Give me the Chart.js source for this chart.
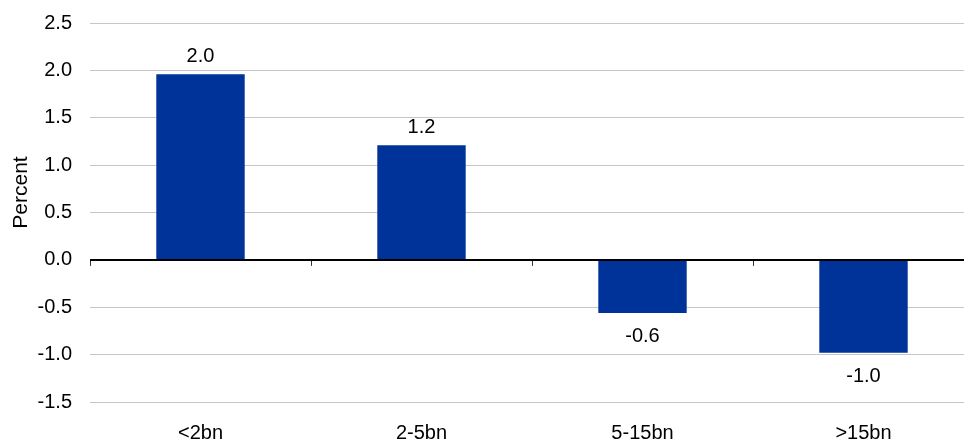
<!DOCTYPE html>
<html>
<head>
<meta charset="utf-8">
<script src="https://cdn.jsdelivr.net/npm/chart.js@4.4.1/dist/chart.umd.min.js"></script>
<style>
  html, body { margin: 0; padding: 0; background: #fff; overflow: hidden; }
  #wrap { width: 974px; height: 449px; margin-top: -7px; }
</style>
</head>
<body>
<div id="wrap"><canvas id="chart"></canvas></div>
<script>
const categories = ['<2bn', '2-5bn', '5-15bn', '>15bn'];
const values = [1.96, 1.21, -0.56, -0.98];
const yMin = -1.5;
const yMax = 2.5;
const yStep = 0.5;
const yTitle = 'Percent';

const barColor = '#003399';
const fontFamily = '"Liberation Sans", Arial, sans-serif';
const fontSize = 20;

// zero line ticks at the category boundaries
const boundaryTicks = {
  id: 'boundaryTicks',
  afterDatasetsDraw(chart) {
    const { ctx, scales: { x, y } } = chart;
    const y0 = y.getPixelForValue(0);
    ctx.save();
    ctx.strokeStyle = '#333';
    ctx.lineWidth = 1;
    for (let i = 0; i <= categories.length; i++) {
      const px = Math.round(x.getPixelForValue(i - 0.5)) + 0.5;
      ctx.beginPath();
      ctx.moveTo(px, y0);
      ctx.lineTo(px, y0 + 6);
      ctx.stroke();
    }
    // redraw the zero line over the bars
    ctx.strokeStyle = '#000';
    ctx.lineWidth = 2;
    ctx.beginPath();
    ctx.moveTo(x.left, y0);
    ctx.lineTo(x.right, y0);
    ctx.stroke();
    ctx.restore();
  }
};

// value labels above / below each bar, plus the rotated axis title
const valueLabels = {
  id: 'valueLabels',
  afterDatasetsDraw(chart) {
    const { ctx, scales: { y } } = chart;
    const meta = chart.getDatasetMeta(0);
    ctx.save();
    ctx.font = fontSize + 'px ' + fontFamily;
    ctx.fillStyle = '#000';
    ctx.textAlign = 'center';
    ctx.textBaseline = 'alphabetic';
    meta.data.forEach((bar, i) => {
      const v = values[i];
      const ty = v >= 0 ? bar.y - 12 : bar.y + 29;
      ctx.fillText(v.toFixed(1), bar.x, ty);
    });

    ctx.font = '21px ' + fontFamily;
    ctx.translate(21, (y.top + y.bottom) / 2 - 20);
    ctx.rotate(-Math.PI / 2);
    ctx.textBaseline = 'middle';
    ctx.fillText(yTitle, 0, 0);
    ctx.restore();
  }
};

new Chart(document.getElementById('chart'), {
  type: 'bar',
  data: {
    labels: categories,
    datasets: [{
      data: values,
      backgroundColor: barColor,
      borderWidth: 0,
      barPercentage: 0.4,
      categoryPercentage: 1.0
    }]
  },
  options: {
    responsive: true,
    maintainAspectRatio: false,
    animation: false,
    layout: { padding: 0 },
    plugins: {
      legend: { display: false },
      tooltip: { enabled: false }
    },
    scales: {
      x: {
        grid: { display: false, drawTicks: false },
        border: { display: false },
        ticks: {
          color: '#000',
          padding: 21,
          font: { family: fontFamily, size: fontSize, lineHeight: 1 }
        },
        afterFit(scale) { scale.height = 40; }
      },
      y: {
        min: yMin,
        max: yMax,
        border: { display: false },
        grid: {
          drawTicks: false,
          color: ctx => ctx.tick.value === 0 ? '#000' : '#c6c6c6',
          lineWidth: ctx => ctx.tick.value === 0 ? 2 : 1
        },
        ticks: {
          stepSize: yStep,
          color: '#000',
          padding: 18,
          font: { family: fontFamily, size: fontSize },
          callback: v => v.toFixed(1)
        },
        afterFit(scale) { scale.width = 90; }
      }
    }
  },
  plugins: [boundaryTicks, valueLabels]
});
</script>
</body>
</html>
